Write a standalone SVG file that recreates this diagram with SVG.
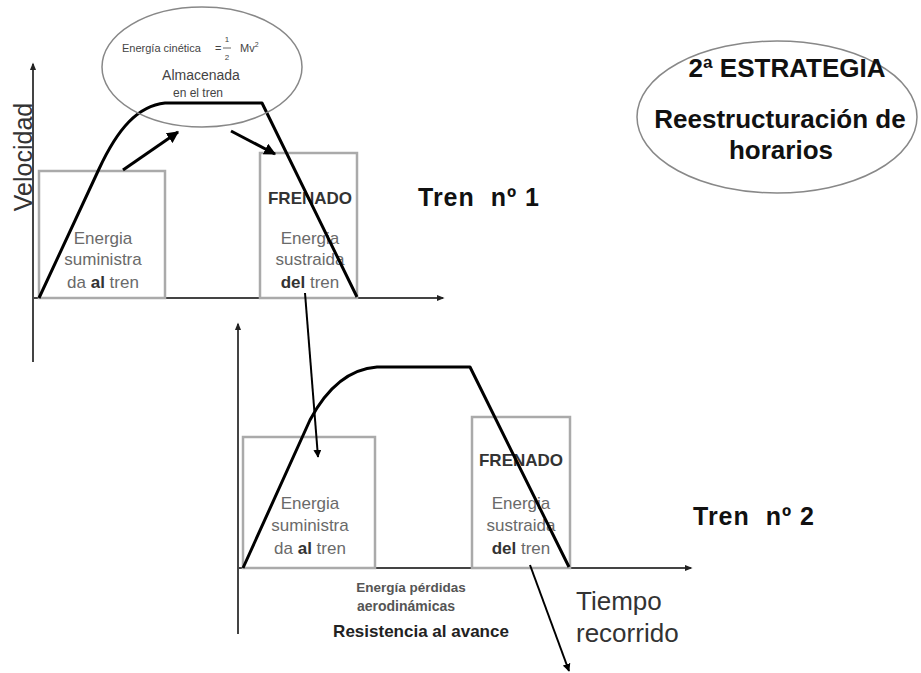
<svg xmlns="http://www.w3.org/2000/svg" width="921" height="673" viewBox="0 0 921 673">
<defs>
<marker id="ah" viewBox="0 0 10 10" refX="9" refY="5" markerWidth="4" markerHeight="4" orient="auto" markerUnits="strokeWidth"><path d="M0,0 L10,5 L0,10 z" fill="#000"/></marker>
<marker id="ax" viewBox="0 0 10 10" refX="8" refY="5" markerWidth="4" markerHeight="4" orient="auto" markerUnits="strokeWidth"><path d="M0,1 L10,5 L0,9 z" fill="#222"/></marker>
<style>
text{font-family:"Liberation Sans",Arial,sans-serif}
.axis{stroke:#444;stroke-width:2;fill:none}
.box{stroke:#aaa;stroke-width:2.5;fill:none}
.curve{stroke:#000;stroke-width:3;fill:none;stroke-linejoin:round}
.arrow{stroke:#000;stroke-width:3;fill:none}
.thin{stroke:#000;stroke-width:2;fill:none}
.bt{font-size:17px;fill:#6a6a6a;text-anchor:middle}
.fr{font-size:17px;font-weight:bold;fill:#333;text-anchor:middle}
.tren{font-size:25px;font-weight:bold;fill:#111;letter-spacing:1px}
.big{font-size:26px;fill:#333}
.strat{font-size:26px;font-weight:bold;fill:#111;text-anchor:middle}
.oval{fill:none;stroke:#888;stroke-width:1.5}
.sm{fill:#444}
</style>
</defs>
<rect width="921" height="673" fill="#fff"/>

<g id="graph1">
<line class="axis" x1="33" y1="362" x2="33" y2="64" marker-end="url(#ax)"/>
<line class="axis" x1="33" y1="298" x2="443" y2="298" marker-end="url(#ax)"/>
<text class="big" transform="translate(32,157) rotate(-90)" text-anchor="middle" style="font-size:25px">Velocidad</text>
</g>

<g id="box-suministrada-1">
<rect class="box" x="39" y="171" width="126" height="127"/>
<text class="bt" x="103" y="244">Energia</text>
<text class="bt" x="103" y="265">suministra</text>
<text class="bt" x="103" y="288">da <tspan font-weight="bold" fill="#333">al</tspan> tren</text>
</g>

<g id="box-frenado-1">
<rect class="box" x="260" y="153" width="97" height="145"/>
<text class="fr" x="310" y="204">FRENADO</text>
<text class="bt" x="310" y="244">Energia</text>
<text class="bt" x="310" y="265">sustraida</text>
<text class="bt" x="310" y="288"><tspan font-weight="bold" fill="#333">del</tspan> tren</text>
</g>

<g id="curve1">
<path class="curve" d="M39,298 L99,169 C118,128 138,106 165,103 L262,103 L357,297"/>
</g>

<g id="energia-cinetica">
<ellipse class="oval" cx="202" cy="67" rx="100" ry="60"/>
<text class="sm" x="122" y="52" font-size="11">Energía cinética</text>
<text class="sm" x="215" y="52" font-size="11">=</text>
<text class="sm" x="227" y="42" font-size="8" text-anchor="middle">1</text>
<line x1="223" y1="48" x2="231" y2="48" stroke="#444" stroke-width="0.8"/>
<text class="sm" x="227" y="60" font-size="8" text-anchor="middle">2</text>
<text class="sm" x="240" y="52" font-size="11">Mv<tspan font-size="7" dy="-5">2</tspan></text>
<text class="sm" x="201" y="80" font-size="14" text-anchor="middle">Almacenada</text>
<text class="sm" x="198" y="97" font-size="12" text-anchor="middle">en el tren</text>
</g>

<g id="tren1">
<text class="tren" x="418" y="206" xml:space="preserve">Tren  nº 1</text>
</g>

<g id="estrategia">
<ellipse class="oval" cx="777" cy="117" rx="140" ry="76"/>
<text class="strat" x="787" y="77">2ª ESTRATEGIA</text>
<text class="strat" x="780" y="128">Reestructuración de</text>
<text class="strat" x="781" y="159">horarios</text>
</g>

<g id="graph2">
<line class="axis" x1="238" y1="634" x2="238" y2="324" marker-end="url(#ax)"/>
<line class="axis" x1="238" y1="568" x2="691" y2="568" marker-end="url(#ax)"/>
<text class="big" x="576" y="610">Tiempo</text>
<text class="big" x="576" y="642">recorrido</text>
</g>

<g id="box-suministrada-2">
<rect class="box" x="243" y="437" width="132" height="131"/>
<text class="bt" x="310" y="509">Energia</text>
<text class="bt" x="310" y="531">suministra</text>
<text class="bt" x="310" y="554">da <tspan font-weight="bold" fill="#333">al</tspan> tren</text>
</g>

<g id="box-frenado-2">
<rect class="box" x="472" y="417" width="98" height="151"/>
<text class="fr" x="521" y="466">FRENADO</text>
<text class="bt" x="521" y="509">Energia</text>
<text class="bt" x="521" y="531">sustraida</text>
<text class="bt" x="521" y="554"><tspan font-weight="bold" fill="#333">del</tspan> tren</text>
</g>

<g id="curve2">
<path class="curve" d="M243,568 L310,420 C328,386 350,369 377,367 L470,367 L569,567"/>
</g>

<g id="perdidas">
<text x="411" y="592" font-size="13.5" font-weight="bold" fill="#555" text-anchor="middle">Energía pérdidas</text>
<text x="406" y="611" font-size="14" font-weight="bold" fill="#555" text-anchor="middle">aerodinámicas</text>
<text x="421" y="637" font-size="17" font-weight="bold" fill="#222" text-anchor="middle">Resistencia al avance</text>
</g>

<g id="tren2">
<text class="tren" x="693" y="525" xml:space="preserve">Tren  nº 2</text>
</g>

<g id="connectors">
<line class="arrow" x1="123" y1="170" x2="178" y2="132" marker-end="url(#ah)"/>
<line class="arrow" x1="231" y1="131" x2="275" y2="154" marker-end="url(#ah)"/>
<line class="thin" x1="305" y1="293" x2="318" y2="457" marker-end="url(#ah)"/>
<line class="thin" x1="530" y1="565" x2="569" y2="671" marker-end="url(#ah)"/>
</g>
</svg>
